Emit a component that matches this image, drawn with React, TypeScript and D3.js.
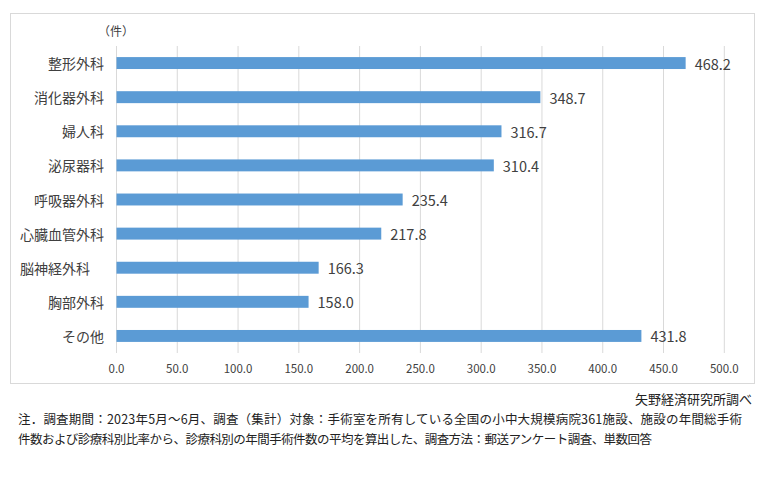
import React from "react";
import * as d3 from "d3";

const categories = ["整形外科", "消化器外科", "婦人科", "泌尿器科", "呼吸器外科", "心臓血管外科", "脳神経外科　", "胸部外科", "その他"];
const values = [468.2, 348.7, 316.7, 310.4, 235.4, 217.8, 166.3, 158.0, 431.8];
const ticks = [0, 50, 100, 150, 200, 250, 300, 350, 400, 450, 500];
const unitLabel = "（件）";
const sourceLabel = "矢野経済研究所調べ";
const noteLines = [
  "注．調査期間：2023年5月～6月、調査（集計）対象：手術室を所有している全国の小中大規模病院361施設、施設の年間総手術",
  "件数および診療科別比率から、診療科別の年間手術件数の平均を算出した、調査方法：郵送アンケート調査、単数回答",
];
const noteWidths = [724, 634];

const W = 767, H = 482;
const FONT = "'Noto Sans CJK JP', 'Noto Sans', sans-serif";

export default function App() {
  const left = 116.5, right = 724.3, top = 46, bottom = 353;
  const x = d3.scaleLinear().domain([0, 500]).range([left, right]);
  const y = d3.scaleBand().domain(categories).range([top, bottom]).paddingInner(0.65).paddingOuter(0.325);
  return (
    <svg width={W} height={H} style={{ position: "absolute", left: 0, top: 0, background: "#fff" }} fontFamily={FONT}>
      <rect x={10.5} y={13.5} width={744} height={370} fill="#fff" stroke="#d9d9d9" />
      {ticks.map((t) => (
        <line key={t} x1={x(t)} x2={x(t)} y1={top} y2={bottom} stroke="#d9d9d9" />
      ))}
      {categories.map((c, i) => (
        <g key={c}>
          <rect x={x(0)} y={y(c)!} width={x(values[i]) - x(0)} height={y.bandwidth()} fill="#5b9bd5" />
          <text x={x(values[i]) + 9} y={y(c)! + y.bandwidth() / 2} dominantBaseline="central" fontSize={14.5} fill="#404040">
            {values[i].toFixed(1)}
          </text>
          <text x={104} y={y(c)! + y.bandwidth() / 2} dominantBaseline="central" textAnchor="end" fontSize={14} fill="#404040" style={{ whiteSpace: "pre" }}>
            {c}
          </text>
        </g>
      ))}
      {ticks.map((t) => (
        <text key={t} x={x(t)} y={368} textAnchor="middle" dominantBaseline="central" fontSize={11.5} fill="#404040">
          {t.toFixed(1)}
        </text>
      ))}
      <text x={116} y={30} textAnchor="middle" dominantBaseline="central" fontSize={12} fill="#404040">{unitLabel}</text>
      <text x={752} y={398} textAnchor="end" dominantBaseline="central" fontSize={13} fill="#222">{sourceLabel}</text>
      {noteLines.map((l, i) => (
        <text key={i} x={18} y={418 + i * 20} dominantBaseline="central" fontSize={12.5} fill="#222" textLength={noteWidths[i]} lengthAdjust="spacing">{l}</text>
      ))}
    </svg>
  );
}
